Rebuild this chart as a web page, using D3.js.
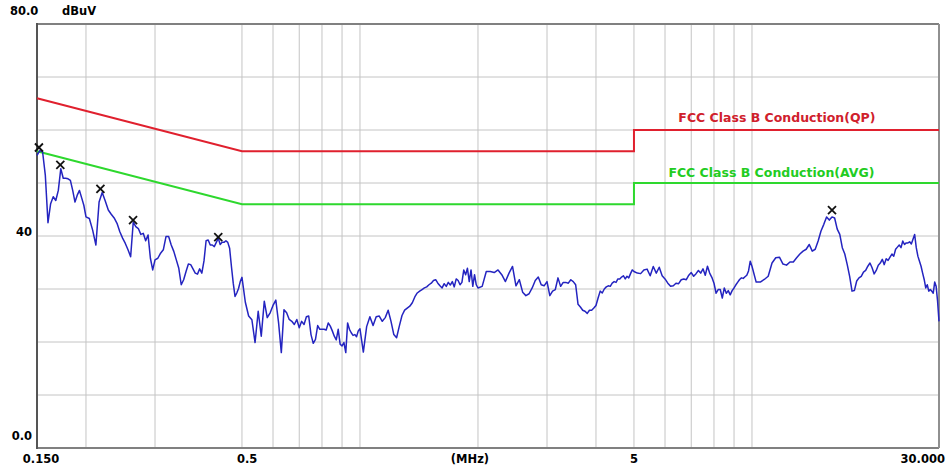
<!DOCTYPE html>
<html><head><meta charset="utf-8">
<script src="https://cdn.jsdelivr.net/npm/d3@7"></script>
<style>
body{margin:0;background:#fff}
svg{display:block}
text{font-family:"DejaVu Sans",sans-serif;font-weight:bold}
</style>
</head><body>
<svg id="chart" width="946" height="470"></svg>
<script>
// ---- data (frequency in MHz, level in dBuV) ----
const freqSeg1 = [0.150,0.1525,0.155,0.1575,0.160,0.1625,0.165,0.1675,0.170,0.1725,0.175,0.1775,0.180,0.1825,0.185,0.1875,0.190,0.1925,0.195,0.1975,0.200];
const levelSeg1 = [55.2,56.1,55.9,51.5,42.5,46.1,47.4,46.7,48.6,52.7,50.9,50.9,50.8,50.5,48.6,46.4,47.7,48.6,47.2,45.8,43.6];
const freqSeg2 = [0.204,0.208,0.212,0.216,0.220,0.224,0.228,0.232,0.236,0.240,0.244,0.248,0.252,0.256,0.260,0.264,0.268,0.272,0.276,0.280,0.284,0.288,0.292,0.296,0.300];
const levelSeg2 = [43.3,41.1,38.3,46.4,48.2,46.6,44.9,44.1,43.4,42.4,40.8,39.6,38.6,37.4,36.1,42.6,41.75,41.4,40.3,40.5,39.1,40.2,35.8,33.6,35.5];
const freqSeg3 = [0.305,0.310,0.315,0.320,0.325,0.330,0.335,0.340,0.345,0.350,0.355,0.360,0.365,0.370,0.375,0.380,0.385,0.390,0.395,0.400,0.405,0.410,0.415,0.420,0.425,0.430,0.435,0.440,0.445,0.450,0.455,0.460,0.465,0.470,0.475,0.480,0.485,0.490,0.495,0.500];
const levelSeg3 = [35.8,36.75,37.4,39.9,39.9,38.3,37.1,35.5,33.9,30.8,31.75,33.3,34.7,34.6,33.8,33.0,32.8,33.8,33.0,35.3,39.1,39.25,38.3,38.3,38.0,38.8,39.6,38.4,38.8,38.8,39.1,38.8,37.7,34.25,31.1,28.6,29.25,30.1,31.4,32.2];
const freqSeg4 = [0.51,0.52,0.53,0.54,0.55,0.56,0.57,0.58,0.59,0.60,0.61,0.62,0.63,0.64,0.65,0.66,0.67,0.68,0.69,0.70,0.71,0.72,0.73,0.74,0.75,0.76,0.77,0.78,0.79,0.80,0.81,0.82,0.83,0.84,0.85,0.86,0.87,0.88,0.89,0.90,0.91,0.92,0.93,0.94,0.95,0.96,0.97,0.98,0.99,1.00];
const levelSeg4 = [27.5,24.9,24.2,19.9,25.8,21.1,27.7,24.6,25.5,26.9,27.9,23.6,18.0,26.1,25.5,24.25,23.9,23.3,24.25,22.7,23.9,23.3,24.75,24.9,21.4,19.75,20.5,23.1,22.4,22.4,22.4,22.25,23.6,23.0,22.1,21.1,20.4,22.4,19.6,19.25,19.9,18.0,23.6,22.4,21.75,21.25,21.4,21.0,22.1,22.5];
const freqSeg5 = [1.02,1.04,1.06,1.08,1.10,1.12,1.14,1.16,1.18,1.20,1.22,1.24,1.26,1.28,1.30,1.32,1.34,1.36,1.38,1.40,1.42,1.44,1.46,1.48,1.50,1.52,1.54,1.56,1.58,1.60,1.62,1.64,1.66,1.68,1.70,1.72,1.74,1.76,1.78,1.80,1.82,1.84,1.86,1.88,1.90,1.92,1.94,1.96,1.98,2.00];
const levelSeg5 = [18.1,22.9,24.75,23.1,24.75,24.9,23.9,24.6,26.0,23.9,21.4,20.8,23.0,25.0,26.0,26.4,26.75,27.4,28.5,29.25,29.6,29.9,30.2,30.4,30.8,31.1,31.6,31.75,31.1,30.6,30.2,31.0,30.5,31.25,30.75,31.4,30.4,31.9,31.6,30.8,31.25,33.6,32.7,33.9,31.4,33.6,30.5,32.7,30.8,30.2];
const freqSeg6 = [2.05,2.10,2.15,2.20,2.25,2.30,2.35,2.40,2.45,2.50,2.55,2.60,2.65,2.70,2.75,2.80,2.85,2.90,2.95,3.00,3.05,3.10,3.15,3.20,3.25,3.30,3.35,3.40,3.45,3.50,3.55,3.60,3.65,3.70,3.75,3.80,3.85,3.90,3.95,4.00,4.05,4.10,4.15,4.20,4.25,4.30,4.35,4.40,4.45,4.50,4.55,4.60,4.65,4.70,4.75,4.80,4.85,4.90,4.95,5.00];
const levelSeg6 = [30.5,33.3,33.3,33.1,33.6,32.7,31.4,33.0,34.25,30.6,31.75,29.4,28.75,29.1,30.2,31.6,32.25,30.8,30.6,31.4,28.75,29.6,29.9,32.1,30.5,31.25,31.25,31.1,31.75,31.4,30.8,27.1,26.6,26.0,25.8,25.4,26.0,26.0,26.4,26.9,28.3,29.6,29.25,30.0,30.4,30.6,30.5,31.1,31.4,31.25,31.9,31.9,32.25,32.5,31.9,32.4,32.1,32.9,33.6,33.3];
const freqSeg7 = [5.1,5.2,5.3,5.4,5.5,5.6,5.7,5.8,5.9,6.0,6.1,6.2,6.3,6.4,6.5,6.6,6.7,6.8,6.9,7.0,7.1,7.2,7.3,7.4,7.5,7.6,7.7,7.8,7.9,8.0,8.1,8.2,8.3,8.4,8.5,8.6,8.7,8.8,8.9,9.0,9.1,9.2,9.3,9.4,9.5,9.6,9.7,9.8,9.9,10.0];
const levelSeg7 = [33.0,32.9,33.6,33.75,32.5,34.25,33.0,34.1,32.5,31.9,31.1,30.5,30.6,31.1,31.0,31.75,31.9,31.75,32.6,33.1,32.4,32.9,33.5,33.0,33.8,32.6,34.3,33.0,32.2,31.1,29.2,29.9,29.9,28.3,30.2,29.2,29.7,28.9,29.7,30.2,30.8,31.3,31.8,32.1,32.0,32.3,32.6,33.4,35.25,34.3];
const freqSeg8 = [10.25,10.5,10.75,11.0,11.25,11.5,11.75,12.0,12.25,12.5,12.75,13.0,13.25,13.5,13.75,14.0,14.25,14.5,14.75,15.0,15.25,15.5,15.75,16.0,16.25,16.5,16.75,17.0,17.25,17.5,17.75,18.0,18.25,18.5,18.75,19.0,19.25,19.5,19.75,20.0,20.25,20.5,20.75,21.0,21.25,21.5,21.75,22.0,22.25,22.5,22.75,23.0,23.25,23.5,23.75,24.0,24.25,24.5,24.75,25.0,25.25,25.5,25.75,26.0,26.25,26.5,26.75,27.0,27.25,27.5,27.75,28.0,28.25,28.5,28.75,29.0,29.25,29.5,29.75,30.0];
const levelSeg8 = [31.3,31.3,31.8,32.4,34.9,35.9,36.0,34.7,34.5,35.1,35.1,35.9,36.6,37.15,37.5,38.4,37.15,37.5,39.05,40.95,42.2,43.6,43.0,43.6,43.4,41.3,40.3,37.8,36.6,34.6,32.4,29.6,29.7,31.5,32.1,32.4,33.2,33.5,34.3,34.9,34.0,32.85,33.5,34.5,34.9,35.6,34.6,35.7,35.4,36.0,36.6,36.2,37.5,37.9,38.3,37.8,39.05,38.4,38.7,38.7,38.9,38.5,39.4,40.3,37.8,36.2,35.25,34.3,33.0,31.8,30.2,30.8,29.6,29.9,29.6,29.2,31.3,30.5,27.7,23.9];

const limitFreq = [0.15, 0.5, 5, 5, 30];
const qpLimit = [66, 56, 56, 60, 60];
const avgLimit = [56, 46, 46, 50, 50];
const qpLabel = "FCC Class B Conduction(QP)";
const avgLabel = "FCC Class B Conduction(AVG)";

const peakFreq = [0.1517, 0.172, 0.2177, 0.2637, 0.435, 16.0];
const peakLevel = [56.7, 53.4, 48.9, 43.0, 39.8, 44.9];

const xGridFreq = [0.2,0.3,0.5,0.6,0.7,0.8,0.9,1,2,3,4,5,6,7,8,9,10];
const yGridLevel = [10,20,30,40,50,60,70];
const xTickFreq = [0.15, 0.5, 5, 30];
const xTickText = ["0.150", "0.5", "5", "30.000"];
const yTickLevel = [80, 40, 0];
const yTickText = ["80.0", "40", "0.0"];
const yUnit = "dBuV", xUnit = "(MHz)";

// ---- drawing ----
const svg = d3.select("#chart");
const m = {left: 37, top: 24, right: 939, bottom: 448};
const x = d3.scaleLog().domain([0.15, 30]).range([m.left, m.right]);
const y = d3.scaleLinear().domain([0, 80]).range([m.bottom, m.top]);

// grid
svg.append("g").selectAll("line").data(xGridFreq).join("line")
  .attr("x1", d => x(d)).attr("x2", d => x(d)).attr("y1", m.top).attr("y2", m.bottom)
  .attr("stroke", "#c4c4c4").attr("stroke-width", 1);
svg.append("g").selectAll("line").data(yGridLevel).join("line")
  .attr("x1", m.left).attr("x2", m.right).attr("y1", d => y(d)).attr("y2", d => y(d))
  .attr("stroke", "#c4c4c4").attr("stroke-width", 1);

// frame
svg.append("line").attr("x1", m.left).attr("x2", m.right).attr("y1", m.top).attr("y2", m.top).attr("stroke", "#808080").attr("stroke-width", 2);
svg.append("line").attr("x1", m.left).attr("x2", m.right).attr("y1", m.bottom).attr("y2", m.bottom).attr("stroke", "#808080").attr("stroke-width", 2);
svg.append("line").attr("x1", m.right).attr("x2", m.right).attr("y1", m.top).attr("y2", m.bottom).attr("stroke", "#909090").attr("stroke-width", 2);
svg.append("line").attr("x1", m.left).attr("x2", m.left).attr("y1", m.top - 1).attr("y2", m.bottom + 1).attr("stroke", "#555").attr("stroke-width", 2);

// limits
const limLine = d3.line().x(d => x(d[0])).y(d => y(d[1]));
svg.append("path").datum(limitFreq.map((f, i) => [f, qpLimit[i]])).attr("d", limLine)
  .attr("fill", "none").attr("stroke", "#e0202e").attr("stroke-width", 2);
svg.append("path").datum(limitFreq.map((f, i) => [f, avgLimit[i]])).attr("d", limLine)
  .attr("fill", "none").attr("stroke", "#2ed82e").attr("stroke-width", 2);

svg.append("text").attr("x", x(6.49)).attr("y", y(60) - 8).attr("font-size", 12.5)
  .attr("fill", "#d0202c").text(qpLabel);
svg.append("text").attr("x", x(6.12)).attr("y", y(50) - 6).attr("font-size", 12.5)
  .attr("fill", "#22cc22").text(avgLabel);

// trace
const freqs = [].concat(freqSeg1, freqSeg2, freqSeg3, freqSeg4, freqSeg5, freqSeg6, freqSeg7, freqSeg8);
const levels = [].concat(levelSeg1, levelSeg2, levelSeg3, levelSeg4, levelSeg5, levelSeg6, levelSeg7, levelSeg8);
svg.append("path").datum(freqs.map((f, i) => [f, levels[i]])).attr("d", limLine)
  .attr("fill", "none").attr("stroke", "#2424c0").attr("stroke-width", 1.5).attr("stroke-linejoin", "round");

// peak markers
const mk = svg.append("g").selectAll("g").data(peakFreq.map((f, i) => [f, peakLevel[i]])).join("g")
  .attr("transform", d => `translate(${x(d[0])},${y(d[1])})`);
mk.append("line").attr("x1", -4).attr("y1", -4).attr("x2", 4).attr("y2", 4).attr("stroke", "#111").attr("stroke-width", 1.8);
mk.append("line").attr("x1", -4).attr("y1", 4).attr("x2", 4).attr("y2", -4).attr("stroke", "#111").attr("stroke-width", 1.8);

// axis labels
const fs = 11.5;
svg.append("text").attr("x", 10).attr("y", y(80) - 9).attr("font-size", fs).text(yTickText[0]);
svg.append("text").attr("x", 62).attr("y", y(80) - 9).attr("font-size", fs).text(yUnit);
svg.append("text").attr("x", m.left - 5).attr("y", y(yTickLevel[1])).attr("text-anchor", "end").attr("font-size", fs).text(yTickText[1]);
svg.append("text").attr("x", m.left - 5).attr("y", y(yTickLevel[2]) - 8).attr("text-anchor", "end").attr("font-size", fs).text(yTickText[2]);

const bx = m.bottom + 15;
svg.append("text").attr("x", x(xTickFreq[0]) + 4).attr("y", bx).attr("text-anchor", "middle").attr("font-size", fs).text(xTickText[0]);
svg.append("text").attr("x", x(xTickFreq[1]) - 5).attr("y", bx).attr("text-anchor", "start").attr("font-size", fs).text(xTickText[1]);
svg.append("text").attr("x", x(xTickFreq[2])).attr("y", bx).attr("text-anchor", "middle").attr("font-size", fs).text(xTickText[2]);
svg.append("text").attr("x", x(xTickFreq[3]) + 6).attr("y", bx).attr("text-anchor", "end").attr("font-size", fs).text(xTickText[3]);
svg.append("text").attr("x", m.left + (m.right - m.left) * 0.48).attr("y", bx).attr("text-anchor", "middle").attr("font-size", fs).text(xUnit);
</script>
</body></html>
